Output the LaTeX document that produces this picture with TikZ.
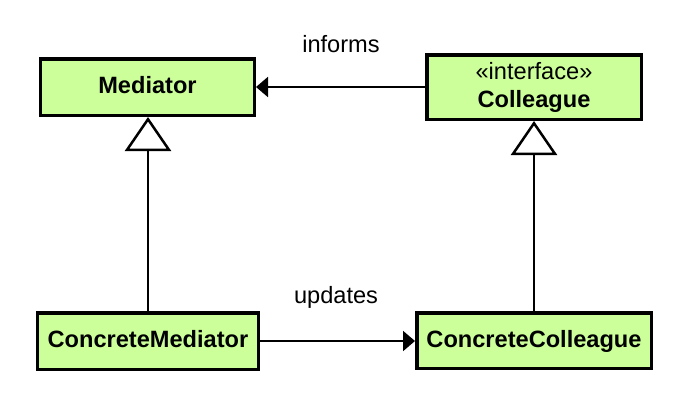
\documentclass[tikz,border=0pt]{standalone}
\usepackage{fontspec}
\setmainfont{Liberation Sans}
\usetikzlibrary{arrows.meta}
\definecolor{boxgreen}{RGB}{204,255,153}
\tikzset{
  cls/.style={draw=black, fill=boxgreen, line width=3.5bp, inner sep=0pt,
    font=\fontsize{23.6bp}{28bp}\selectfont\bfseries, align=center},
  oneline/.style={text height=17bp, text depth=4bp},
  lbl/.style={inner sep=0pt, font=\fontsize{23.6bp}{28bp}\selectfont},
  assoc/.style={line width=2bp, -{Triangle[length=12bp,width=20bp]}},
  gen/.style={line width=2.5bp, -{Triangle[open,length=34bp,width=46bp]}}
}
\begin{document}
\begin{tikzpicture}[x=1bp,y=-1bp]
\useasboundingbox[fill=white] (0,0) rectangle (692,412);
\node[cls, oneline, minimum width=213.5bp, minimum height=56.5bp] (med) at (147.5,87) {Mediator};
\node[cls, minimum width=214.5bp, minimum height=64.5bp] (col) at (534,87) {\mdseries«interface»\\\bfseries Colleague};
\node[cls, oneline, minimum width=220.5bp, minimum height=56.5bp] (cm) at (148,341) {ConcreteMediator};
\node[cls, oneline, minimum width=234.5bp, minimum height=55.5bp] (cc) at (534,340.5) {ConcreteColleague};
\node[lbl] (inf) at (341,44) {informs};
\node[lbl] (upd) at (336,297) {updates};
\draw[assoc] (col.west) -- (med.east);
\draw[assoc] (cm.east) -- (cc.west |- cm.east);
\draw[gen] (cm.north) -- (cm.north |- med.south);
\draw[gen] (cc.north) -- (cc.north |- col.south);
\end{tikzpicture}
\end{document}
